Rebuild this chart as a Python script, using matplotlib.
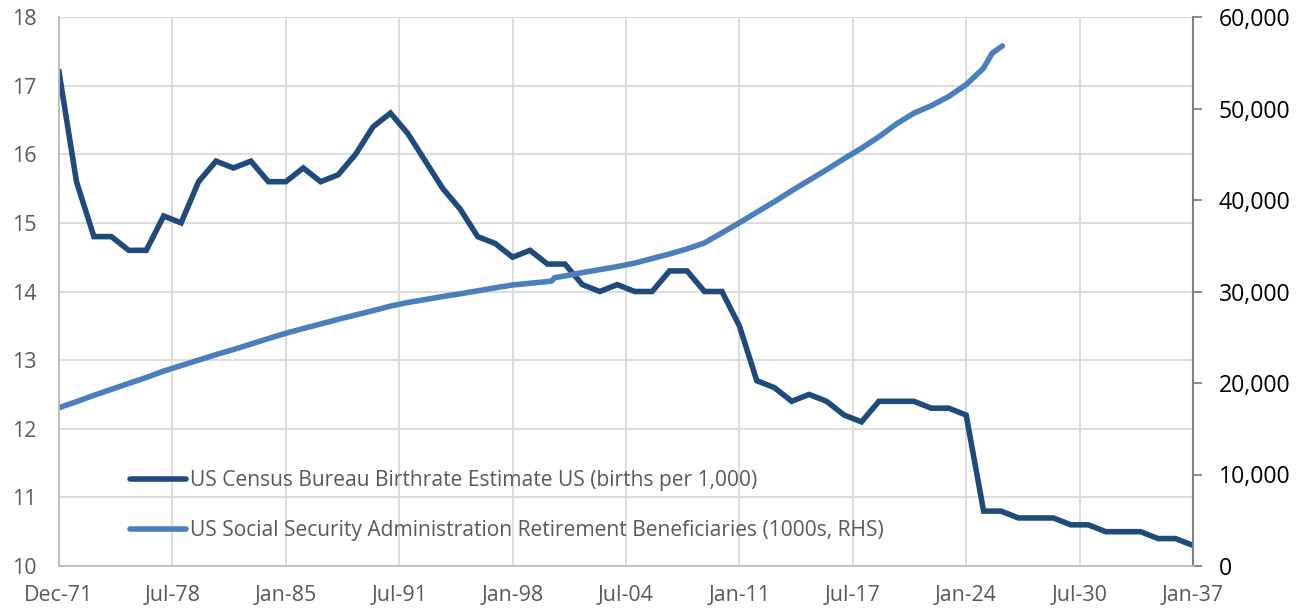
import datetime
from matplotlib import (pyplot as plt, ticker)

plt.rcParams['font.family'] = ['Open Sans', 'DejaVu Sans']

# birthrate, one value per year (Dec of each year)
BIRTH_YEARS = list(range(1971, 2037))
BIRTH_RATES = [17.2, 15.6, 14.8, 14.8, 14.6, 14.6, 15.1, 15.0, 15.6, 15.9,
               15.8, 15.9, 15.6, 15.6, 15.8, 15.6, 15.7, 16.0, 16.4, 16.6,
               16.3, 15.9, 15.5, 15.2, 14.8, 14.7, 14.5, 14.6, 14.4, 14.4,
               14.1, 14.0, 14.1, 14.0, 14.0, 14.3, 14.3, 14.0, 14.0, 13.5,
               12.7, 12.6, 12.4, 12.5, 12.4, 12.2, 12.1, 12.4, 12.4, 12.4,
               12.3, 12.3, 12.2, 10.8, 10.8, 10.7, 10.7, 10.7, 10.6, 10.6,
               10.5, 10.5, 10.5, 10.4, 10.4, 10.3]

# retirement beneficiaries (1000s)
SSA_DATES = ['1971-12', '1972-12', '1973-12', '1974-12', '1975-12', '1976-12',
             '1977-12', '1978-12', '1979-12', '1980-12', '1981-12', '1982-12',
             '1983-12', '1984-12', '1985-12', '1986-12', '1987-12', '1988-12',
             '1989-12', '1990-12', '1991-12', '1992-12', '1993-12', '1994-12',
             '1995-12', '1996-12', '1997-12', '1998-12', '1999-12', '2000-03',
             '2000-05', '2000-12', '2001-12', '2002-12', '2003-12', '2004-12',
             '2005-12', '2006-12', '2007-12', '2008-12', '2009-12', '2010-12',
             '2011-12', '2012-12', '2013-12', '2014-12', '2015-12', '2016-12',
             '2017-12', '2018-12', '2019-12', '2020-12', '2021-12', '2022-12',
             '2023-12', '2024-12', '2025-06', '2026-01']
SSA_VALUES = [17300, 17950, 18650, 19300, 19950, 20600,
              21300, 21900, 22500, 23100, 23650, 24250,
              24850, 25430, 25950, 26450, 26950, 27430,
              27900, 28400, 28800, 29120, 29450, 29750,
              30070, 30400, 30710, 30900, 31080, 31150,
              31510, 31700, 32060, 32390, 32720, 33100,
              33600, 34100, 34650, 35300, 36400, 37500,
              38650, 39800, 41000, 42150, 43300, 44500,
              45650, 46900, 48300, 49480, 50300, 51300,
              52600, 54400, 56040, 56840]

TICK_DATES = ['1971-12-31', '1978-07-01', '1985-01-01', '1991-07-02', '1998-01-01',
              '2004-07-02', '2011-01-01', '2017-07-02', '2024-01-01', '2030-07-02',
              '2037-01-01']
TICK_LABELS = ['Dec-71', 'Jul-78', 'Jan-85', 'Jul-91', 'Jan-98', 'Jul-04',
               'Jan-11', 'Jul-17', 'Jan-24', 'Jul-30', 'Jan-37']

LABEL_BIRTH = 'US Census Bureau Birthrate Estimate US (births per 1,000)'
LABEL_SSA = 'US Social Security Administration Retirement Beneficiaries (1000s, RHS)'


def toDate(s):
    parts = [int(p) for p in s.split('-')]
    if len(parts) == 2:
        parts.append(28)
    return datetime.datetime(parts[0], parts[1], parts[2])


birthDates = [datetime.datetime(y, 12, 31) for y in BIRTH_YEARS]
ssaDates = [toDate(s) for s in SSA_DATES]
tickDates = [toDate(s) for s in TICK_DATES]

fig = plt.figure(figsize=(12.97, 6.08), dpi=100)
ax = fig.add_axes([59 / 1297, 1 - 566 / 608, (1193 - 59) / 1297, (566 - 17) / 608])
ax2 = ax.twinx()

grey = '#595959'
lBirth, = ax.plot(birthDates, BIRTH_RATES, color='#1F4A7C', lw=4,
                  solid_joinstyle='miter', label=LABEL_BIRTH, zorder=3)
lSsa, = ax2.plot(ssaDates, SSA_VALUES, color='#4A7EBD', lw=4,
                 solid_capstyle='round', label=LABEL_SSA)

ax.set_xlim(tickDates[0], tickDates[-1])
ax.set_ylim(10, 18)
ax.set_yticks(range(10, 19))
ax.set_xticks(tickDates)
ax.set_xticklabels(TICK_LABELS)
ax.grid(True, color='#D9D9D9', lw=1.3)
ax.set_axisbelow(True)
ax.tick_params(axis='both', length=0, labelsize=15.4, labelcolor=grey)
ax.tick_params(axis='y', pad=16)
ax.tick_params(axis='x', pad=14)

ax2.set_ylim(0, 60000)
ax2.set_yticks(range(0, 60001, 10000))
ax2.yaxis.set_major_formatter(ticker.FuncFormatter(lambda v, p: '{:,.0f}'.format(v)))
ax2.tick_params(axis='y', length=6.5, width=1.3, color='#808080', direction='out',
                labelsize=16.6, labelcolor='black', pad=12)

for a in (ax, ax2):
    a.spines['top'].set_visible(False)
    a.spines['left'].set_color('#BFBFBF')
    a.spines['bottom'].set_color('#BFBFBF')
    a.spines['left'].set_linewidth(1.3)
    a.spines['bottom'].set_linewidth(1.3)
ax.spines['right'].set_visible(False)
ax2.spines['right'].set_color('#808080')
ax2.spines['right'].set_linewidth(1.5)

leg = ax.legend(handles=[lBirth, lSsa], loc='upper left', bbox_to_anchor=(0.0626, 0.175),
                frameon=False, fontsize=15.1, handlelength=2.65, handletextpad=0.2,
                labelspacing=1.4, borderaxespad=0, borderpad=0)
for t in leg.get_texts():
    t.set_color(grey)
for h in leg.get_lines():
    h.set_solid_capstyle('round')

plt.savefig('out.png', dpi=100)
